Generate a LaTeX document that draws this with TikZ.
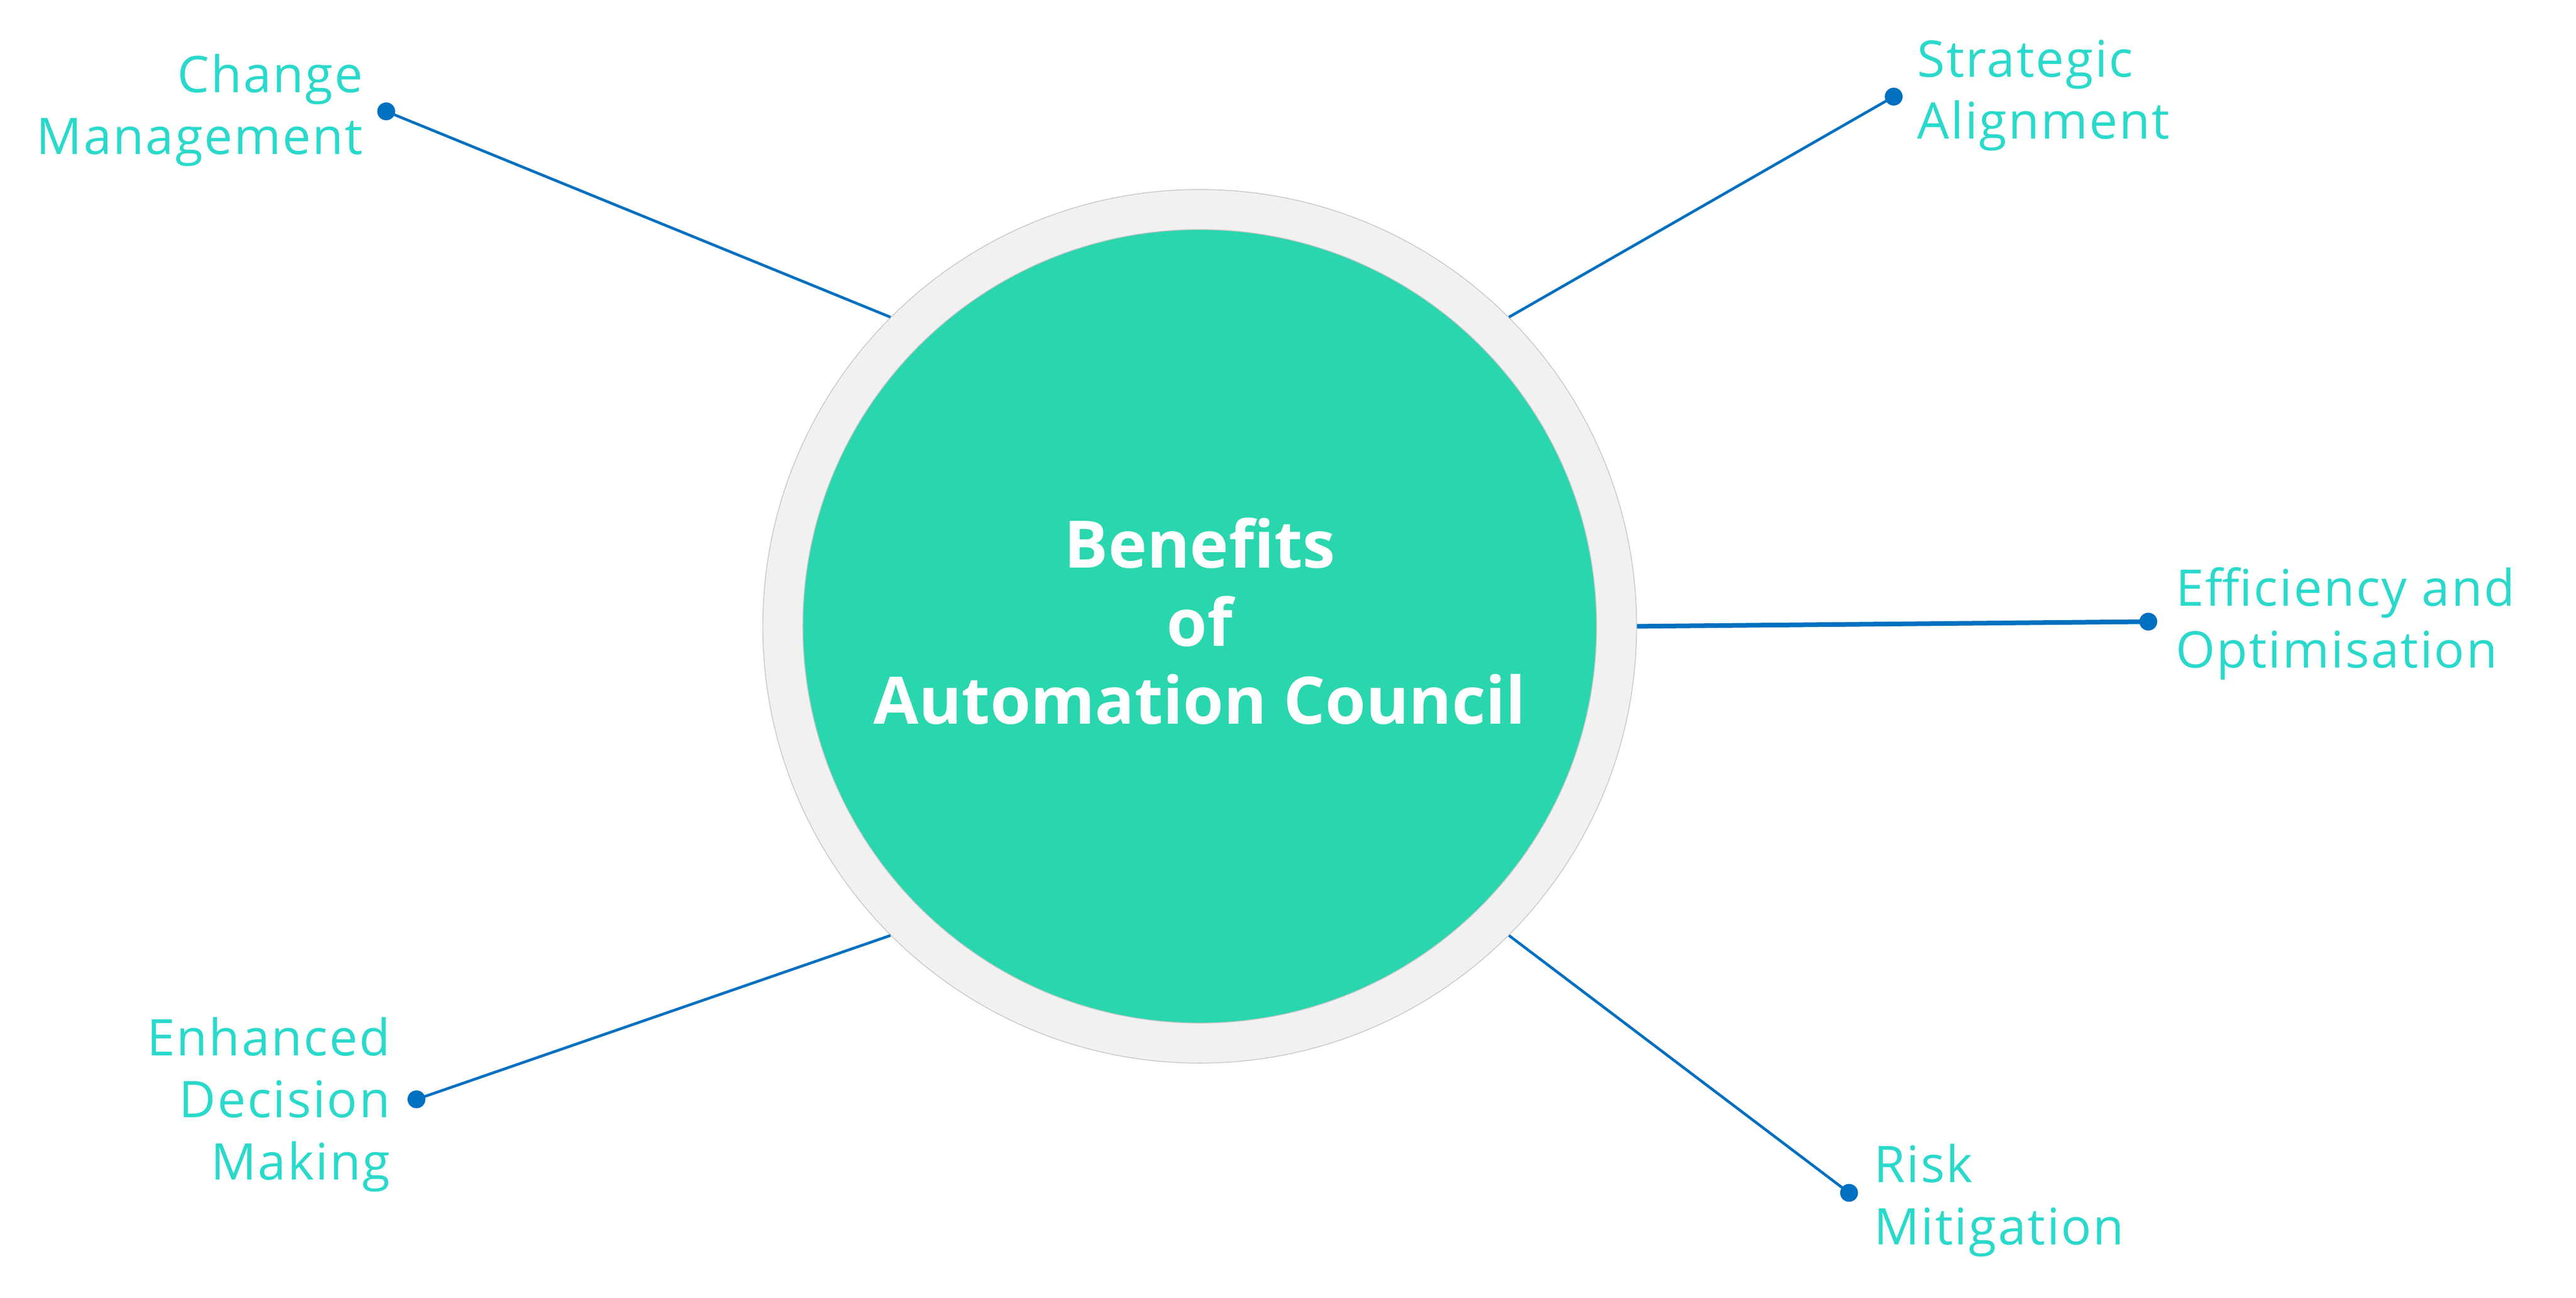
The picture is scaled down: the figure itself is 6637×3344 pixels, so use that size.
\documentclass[tikz,border=0pt]{standalone}
\usepackage{fontspec}
\setmainfont{Open Sans}
\newfontfamily\lblfont[LetterSpace=3]{Open Sans}
\definecolor{ringfill}{HTML}{F1F1F1}
\definecolor{ringline}{HTML}{C8C8C8}
\definecolor{coreteal}{HTML}{2AD6AE}
\definecolor{labelteal}{HTML}{2AD9CB}
\definecolor{linkblue}{HTML}{0070C0}
\begin{document}
\begin{tikzpicture}[x=0.01cm,y=-0.01cm,
  lbl/.style={inner sep=0pt,text=labelteal,font=\lblfont\fontsize{37}{44}\selectfont},
  ttl/.style={inner sep=0pt,text=white,font=\bfseries\fontsize{48}{57}\selectfont},
  dotnode/.style={circle,fill=linkblue,inner sep=0pt,minimum size=0.46cm},
  link/.style={draw=linkblue,line width=2pt},
  biglink/.style={draw=linkblue,line width=3.4pt}]
\useasboundingbox (0,0) rectangle (6637,3344);
\node[circle,fill=ringfill,draw=ringline,line width=0.6pt,inner sep=0pt,minimum size=22.50cm] (outer) at (3091,1614) {};
\node[circle,fill=coreteal,draw=ringline,line width=0.6pt,inner sep=0pt,minimum size=20.44cm] (inner) at (3091,1614) {};
\node[ttl,anchor=base] (t1) at (3091,1464) {Benefits};
\node[ttl,anchor=base] (t2) at (3091,1665) {of};
\node[ttl,anchor=base] (t3) at (3091,1866) {Automation Council};
% dots
\node[dotnode] (dcm) at (995,287) {};
\node[dotnode] (dsa) at (4879,249) {};
\node[dotnode] (deo) at (5535,1602) {};
\node[dotnode] (drm) at (4764,3074) {};
\node[dotnode] (ded) at (1073,2833) {};
% links
\draw[link] (dcm.center) -- (outer.135);
\draw[link] (dsa.center) -- (outer.45);
\draw[biglink] (deo.center) -- (outer.0);
\draw[link] (drm.center) -- (outer.-45);
\draw[link] (ded.center) -- (outer.-135);
% labels
\node[lbl,anchor=base east] (cm1) at (936,238) {Change};
\node[lbl,anchor=base east] (cm2) at (936,398) {Management};
\node[lbl,anchor=base west] (sa1) at (4939,198) {Strategic};
\node[lbl,anchor=base west] (sa2) at (4939,358) {Alignment};
\node[lbl,anchor=base west] (eo1) at (5605,1561) {Efficiency and};
\node[lbl,anchor=base west] (eo2) at (5605,1721) {Optimisation};
\node[lbl,anchor=base west] (rm1) at (4827,3047) {Risk};
\node[lbl,anchor=base west] (rm2) at (4827,3207) {Mitigation};
\node[lbl,anchor=base east] (ed1) at (1006,2720) {Enhanced};
\node[lbl,anchor=base east] (ed2) at (1006,2880) {Decision};
\node[lbl,anchor=base east] (ed3) at (1006,3041) {Making};
\end{tikzpicture}
\end{document}
